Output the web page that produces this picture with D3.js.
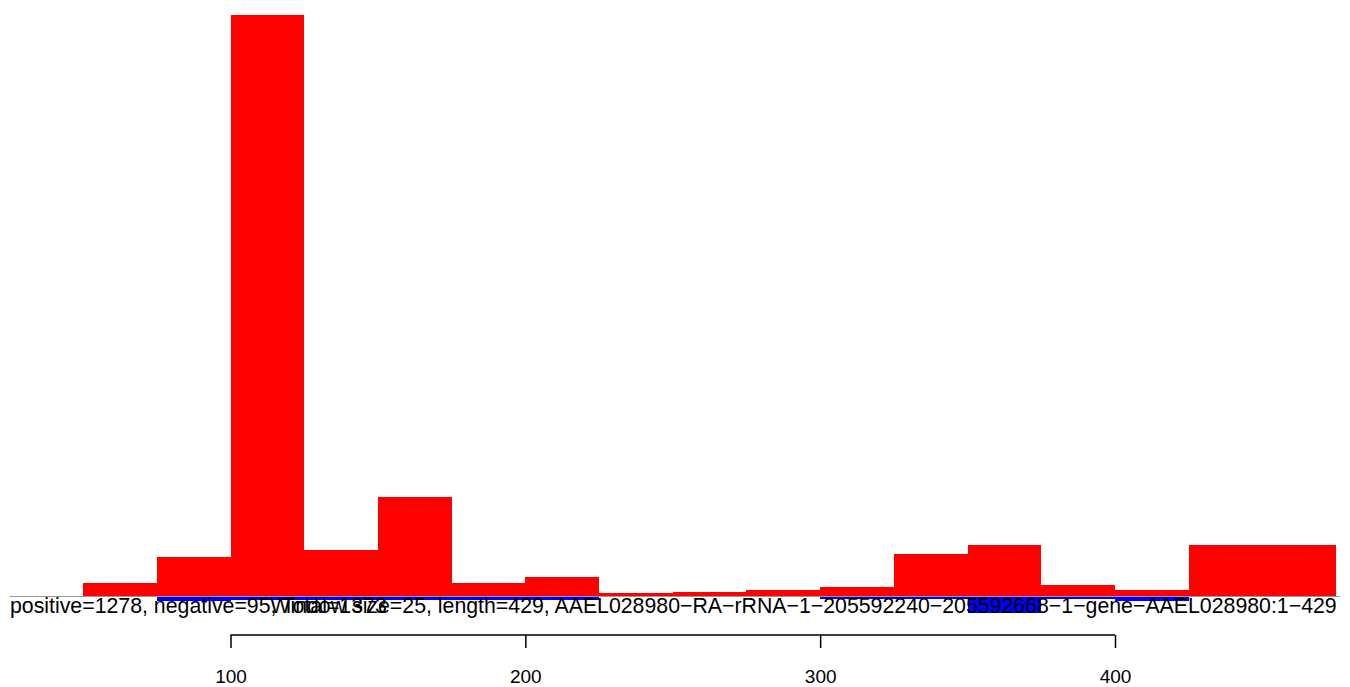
<!DOCTYPE html>
<html>
<head>
<meta charset="utf-8">
<script src="https://cdn.jsdelivr.net/npm/d3@7"></script>
<style>
  html, body { margin: 0; padding: 0; background: #fff; }
  svg { display: block; }
  text { font-family: "Liberation Sans", Arial, sans-serif; }
</style>
</head>
<body>
<svg id="chart" width="1350" height="687"></svg>
<script>
// ---- data ----
const binStart = [50, 75, 100, 125, 150, 175, 200, 225, 250, 275, 300, 325, 350, 375, 400, 425];
const binEnd   = [75, 100, 125, 150, 175, 200, 225, 250, 275, 300, 325, 350, 375, 400, 425, 475];
const positiveCounts = [17, 50, 748, 59, 127, 17, 24, 4, 5, 8, 12, 54, 66, 14, 8, 66];
const negativeCounts = [0, 6, 5, 5, 5, 5, 5, 1, 1, 1, 4, 4, 22, 4, 6, 0];
const tickValues = [100, 200, 300, 400];
const infoText = "positive=1278, negative=95, Total=1373";
const titleText = "Window size=25, length=429, AAEL028980\u2212RA\u2212rRNA\u22121\u2212205592240\u2212205592668\u22121\u2212gene\u2212AAEL028980:1\u2212429";

// ---- layout ----
const svg = d3.select("#chart");
const x = d3.scaleLinear().domain([100, 400]).range([230.5, 1115]);
const yMax = d3.max(positiveCounts);
const yMin = -d3.max(negativeCounts);
const y = d3.scaleLinear().domain([yMin, yMax]).range([613, 15]);

const bins = binStart.map((s, i) => ({ s, e: binEnd[i], p: positiveCounts[i], n: negativeCounts[i] }));

svg.append("g").selectAll("rect").data(bins).join("rect")
  .attr("x", d => x(d.s))
  .attr("width", d => x(d.e) - x(d.s))
  .attr("y", d => y(d.p))
  .attr("height", d => y(0) - y(d.p))
  .attr("fill", "#FF0000")
  .attr("shape-rendering", "crispEdges");

svg.append("g").selectAll("rect").data(bins.filter(d => d.n > 0)).join("rect")
  .attr("x", d => x(d.s))
  .attr("width", d => x(d.e) - x(d.s))
  .attr("y", y(0))
  .attr("height", d => y(-d.n) - y(0))
  .attr("fill", "#0000FF")
  .attr("shape-rendering", "crispEdges");

// baseline
svg.append("line")
  .attr("x1", 10).attr("x2", 1340)
  .attr("y1", Math.round(y(0)) + 0.5).attr("y2", Math.round(y(0)) + 0.5)
  .attr("stroke", "#9a9a9a").attr("stroke-width", 1);

// texts
svg.append("text").attr("x", 10).attr("y", 613)
  .attr("font-size", 21.3).attr("fill", "#000").text(infoText);
svg.append("text").attr("x", 803.5).attr("y", 613)
  .attr("text-anchor", "middle")
  .attr("font-size", 21.3).attr("fill", "#000").text(titleText);

// axis
const axisG = svg.append("g").attr("transform", "translate(0,635)")
  .call(d3.axisBottom(x).tickValues(tickValues).tickSize(13).tickSizeOuter(0).tickPadding(22));
axisG.select(".domain").remove();
axisG.append("line")
  .attr("x1", x(tickValues[0])).attr("x2", x(tickValues[tickValues.length - 1]))
  .attr("y1", 0).attr("y2", 0)
  .attr("stroke", "#000").attr("stroke-width", 1.5);
axisG.selectAll(".tick line").attr("stroke", "#000").attr("stroke-width", 1.5);
axisG.selectAll(".tick text")
  .attr("font-size", 19)
  .attr("font-family", "Liberation Sans, Arial, sans-serif")
  .attr("fill", "#000");
</script>
</body>
</html>
